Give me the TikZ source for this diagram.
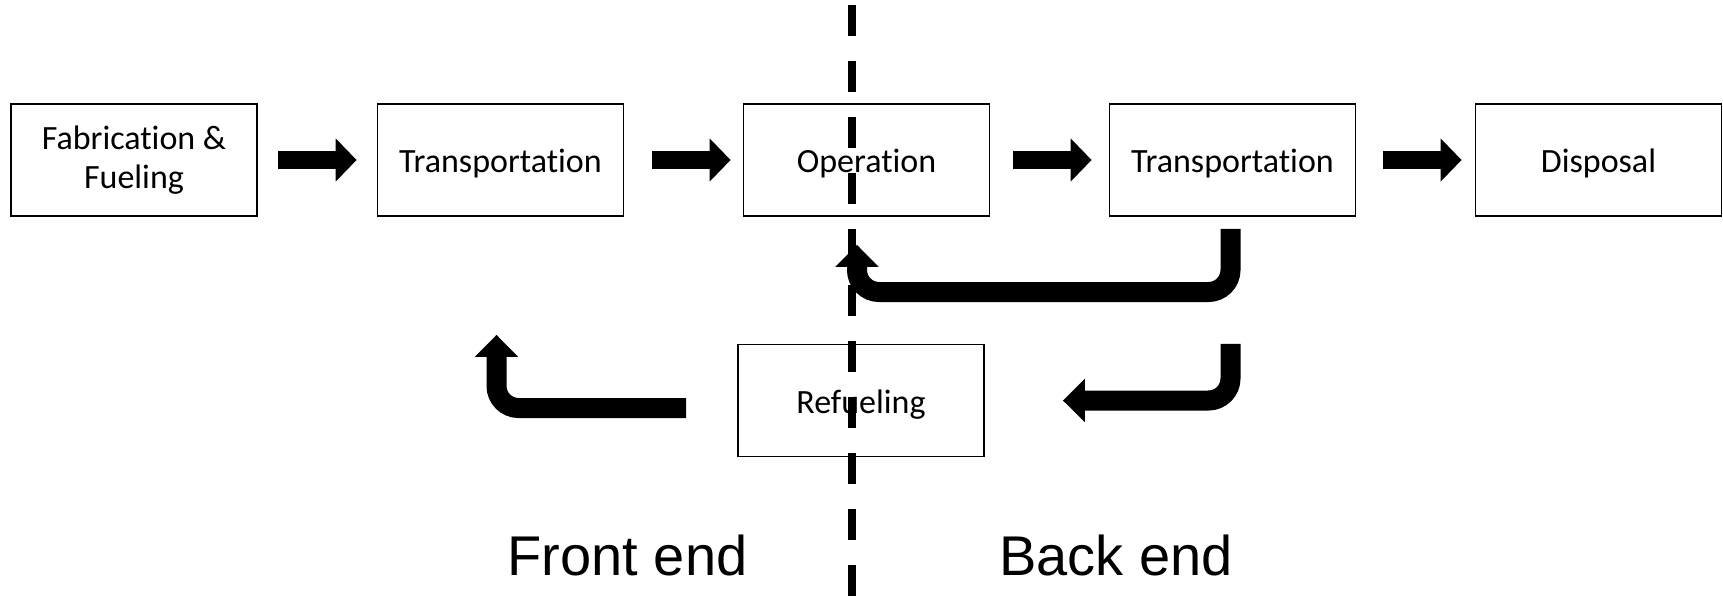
\documentclass[tikz,border=0pt]{standalone}
\usepackage{fontspec}
\setmainfont{Carlito}[Ligatures=NoCommon]
\newfontfamily\sidefont{Liberation Sans}
\usetikzlibrary{arrows.meta, positioning}

\tikzset{
    stage/.style={draw=black, line width=1.8pt, fill=white, minimum width=246pt, minimum height=112pt,
        inner sep=0pt, align=center, font=\fontsize{34}{39}\selectfont},
    oneline/.style={text height=28pt, text depth=2.6pt},
    flowarrow/.style={line width=18pt, -{Triangle[width=42pt, length=21pt]}},
    returnarrow/.style={line width=20pt, rounded corners=22pt, -{Triangle[width=42pt, length=22pt]}},
    divider/.style={line width=7.5pt, dash pattern=on 31pt off 25pt},
    sidelabel/.style={font=\sidefont\fontsize{56}{62}\selectfont, anchor=base}
}

\begin{document}
\begin{tikzpicture}[x=1pt, y=-1pt]
    \useasboundingbox (0,0) rectangle (1723,598);

    % Stages
    \node[stage] (fab) at (134,160) {Fabrication \&\\Fueling};
    \node[stage, oneline] (trans1) at (500.5,160) {Transportation};
    \node[stage, oneline] (oper) at (866.5,160) {Operation};
    \node[stage, oneline] (trans2) at (1232.5,160) {Transportation};
    \node[stage, oneline] (disp) at (1598.5,160) {Disposal};
    \node[stage, oneline] (refuel) at (861,400.5) {Refueling};

    % Forward arrows
    \foreach \a/\b/\s/\e in {fab/trans1/20/20, trans1/oper/28/12, oper/trans2/23/17, trans2/disp/27/13} {
        \draw[flowarrow, shorten <=\s pt, shorten >=\e pt] (\a.east) -- (\b.west);
    }

    % Return loops
    \coordinate (bendA) at (857,292);
    \draw[returnarrow] ([xshift=-2pt,yshift=-12pt]trans2.south) |- (bendA)
        -- ([xshift=-9.5pt,yshift=-28pt]oper.south);
    \draw[returnarrow] ([xshift=-2pt,yshift=-127pt]trans2.south) |- ([xshift=78pt]refuel.east);
    \draw[returnarrow] ([xshift=-51pt,yshift=-7.5pt]refuel.west) -| ([xshift=-4pt,yshift=-118pt]trans1.south);

    % Front / back end split
    \node[sidelabel] (front) at (627.5,575) {Front end};
    \node[sidelabel] (back) at (1116,575) {Back end};
    \draw[divider] (852,5) -- (852,598);

\end{tikzpicture}
\end{document}
